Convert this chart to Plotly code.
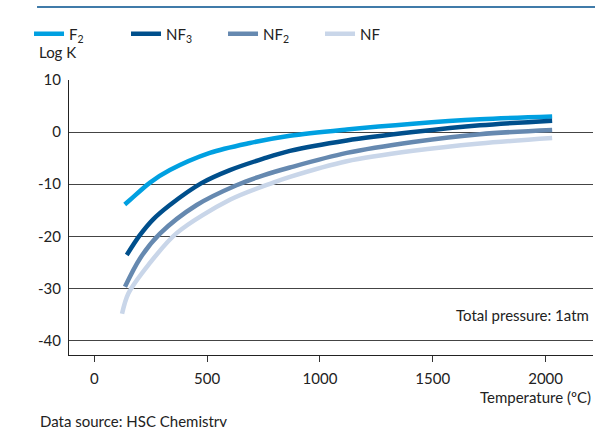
import plotly.graph_objects as go

# Temperatures (°C) and log K values
t_f2 = [135, 159, 247, 335, 512, 690, 867, 1119, 1413, 1709, 2029]
k_f2 = [-13.9, -13.0, -9.7, -7.3, -4.0, -2.1, -0.7, 0.5, 1.6, 2.45, 3.0]

t_nf3 = [144, 202, 260, 335, 475, 601, 749, 867, 1119, 1413, 1709, 2029]
k_nf3 = [-23.6, -19.8, -16.8, -14.0, -9.8, -7.3, -5.1, -3.6, -1.6, 0.0, 1.3, 2.2]

t_nf2 = [136, 202, 291, 454, 630, 749, 867, 1119, 1413, 1709, 2029]
k_nf2 = [-29.7, -24.3, -19.5, -14.0, -10.2, -8.3, -6.8, -4.0, -1.9, -0.4, 0.4]

t_nf = [123, 151, 240, 365, 601, 793, 867, 1119, 1413, 1709, 2029]
k_nf = [-34.9, -31.0, -25.5, -19.4, -13.0, -9.7, -8.6, -5.6, -3.6, -2.2, -1.15]

names = ["F<sub>2</sub>", "NF<sub>3</sub>", "NF<sub>2</sub>", "NF"]
colors = ["#00a0e1", "#004f8c", "#6689b0", "#c9d6e9"]

x_ticks = [0, 500, 1000, 1500, 2000]
y_ticks = [10, 0, -10, -20, -30, -40]

FONT = "Lato, Roboto, sans-serif"
TXT = "#222222"
FS = 15

fig = go.Figure()
for t, k, n, c in zip([t_f2, t_nf3, t_nf2, t_nf], [k_f2, k_nf3, k_nf2, k_nf], names, colors):
    fig.add_trace(go.Scatter(x=t, y=k, name=n, mode="lines",
                             line=dict(color=c, width=4.5, shape="spline", smoothing=0.9)))

fig.update_layout(
    width=595, height=427,
    margin=dict(l=69, r=2, t=80, b=72, autoexpand=False),
    paper_bgcolor="white", plot_bgcolor="white",
    font=dict(family=FONT, size=FS, color=TXT),
    showlegend=True,
    legend=dict(orientation="h", x=-0.0763, y=1.167, xref="paper", yref="paper",
                xanchor="left", yanchor="middle",
                entrywidth=52, entrywidthmode="pixels",
                font=dict(family=FONT, size=FS, color=TXT),
                bgcolor="rgba(0,0,0,0)", itemwidth=30, tracegroupgap=0),
    xaxis=dict(range=[-112, 2210], tickvals=x_ticks, ticktext=[str(v) for v in x_ticks],
               showgrid=False, zeroline=False, showline=True, linecolor="#222", linewidth=1,
               ticks="outside", ticklen=6, tickcolor="#333", tickwidth=1,
               ticklabelstandoff=4, tickfont=dict(family=FONT, size=FS, color=TXT)),
    yaxis=dict(range=[-42.8, 10], tickvals=y_ticks, ticktext=[str(v) for v in y_ticks],
               showgrid=True, gridcolor="#444", gridwidth=1, zeroline=False,
               showline=True, linecolor="#222", linewidth=1, ticks="",
               ticklabelstandoff=4, tickfont=dict(family=FONT, size=FS, color=TXT)),
    shapes=[dict(type="line", xref="paper", yref="paper", x0=-0.061, x1=1.004,
                 y0=1.2655, y1=1.2655, line=dict(color="#004f8c", width=1.5))],
    annotations=[
        dict(text="Log K", xref="paper", yref="paper", x=-0.0611, y=1.102,
             xanchor="left", yanchor="middle", showarrow=False, font=dict(size=FS)),
        dict(text="Temperature (ºC)", xref="paper", yref="paper", x=1.0, y=-0.1527,
             xanchor="right", yanchor="middle", showarrow=False, font=dict(size=FS)),
        dict(text="Total pressure: 1atm", xref="paper", yref="paper", x=0.9962, y=0.1455,
             xanchor="right", yanchor="middle", showarrow=False, font=dict(size=FS)),
        dict(text="Data source: HSC Chemistry", xref="paper", yref="paper", x=-0.0592, y=-0.24,
             xanchor="left", yanchor="middle", showarrow=False, font=dict(size=FS)),
    ],
)

fig.write_html("out.html", config={"displayModeBar": False},
               post_script="document.body.style.margin='0';document.body.style.overflow='hidden';")
